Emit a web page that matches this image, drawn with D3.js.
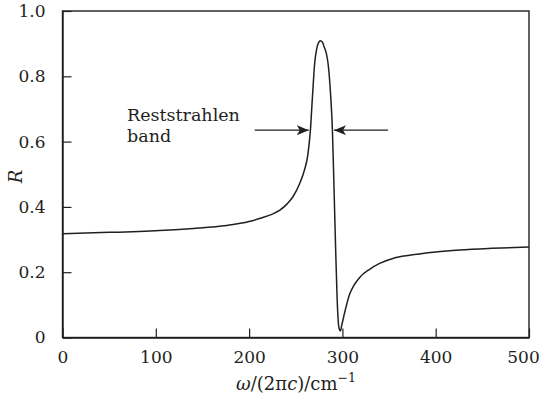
<!DOCTYPE html>
<html>
<head>
<meta charset="utf-8">
<script src="https://cdn.jsdelivr.net/npm/d3@7"></script>
<style>
  html, body { margin: 0; padding: 0; background: #fff; }
  svg { display: block; }
  text { font-family: "DejaVu Serif", "Liberation Serif", serif; fill: #231f20; }
</style>
</head>
<body>
<svg id="chart" width="540" height="403"></svg>
<script>
// Data
const freq = [0, 50, 104, 140, 176, 200, 212, 225, 233, 241, 247, 254, 259, 263, 265.7, 267.9, 270.3, 272.5, 274.5, 276.4, 278.5, 280.5, 282.8, 284.6, 287.5, 289.3, 290.9, 292.5, 294.4, 296.3, 297.8, 299.5, 302.4, 307.8, 312, 318.5, 329.2, 339.9, 355, 372, 400, 425.6, 460, 500];
const refl = [0.318, 0.322, 0.328, 0.334, 0.343, 0.355, 0.365, 0.378, 0.39, 0.41, 0.431, 0.47, 0.51, 0.56, 0.635, 0.737, 0.84, 0.885, 0.903, 0.909, 0.905, 0.89, 0.87, 0.84, 0.737, 0.635, 0.47, 0.298, 0.115, 0.03, 0.02, 0.04, 0.076, 0.133, 0.158, 0.184, 0.209, 0.227, 0.243, 0.252, 0.262, 0.268, 0.273, 0.277];
const xTicks = [0, 100, 200, 300, 400, 500];
const yTicks = [0, 0.2, 0.4, 0.6, 0.8, 1.0];
const bandLabel = ["Reststrahlen", "band"];
const arrowY = 0.635;
const leftArrow = [206, 264];   // from, tip (in cm^-1)
const rightArrow = [349, 291];  // from, tip

const svg = d3.select("#chart");
const x0 = 62.5, x1 = 529, y0 = 337.5, y1 = 11;
const x = d3.scaleLinear().domain([0, 500]).range([x0, x1]);
const y = d3.scaleLinear().domain([0, 1]).range([y0, y1]);
const ink = "#231f20";
const fs = 17;

// frame
svg.append("rect").attr("x", x0).attr("y", y1).attr("width", x1 - x0).attr("height", y0 - y1)
  .attr("fill", "none").attr("stroke", ink).attr("stroke-width", 1.4);

// axes
const xAxis = d3.axisBottom(x).tickValues(xTicks).tickSizeInner(-9).tickSizeOuter(0).tickPadding(20)
  .tickFormat(d3.format("d"));
const gx = svg.append("g").attr("transform", `translate(0,${y0})`).call(xAxis);
gx.select(".domain").attr("stroke", ink).attr("stroke-width", 1.4);
gx.selectAll(".tick line").attr("stroke", ink).attr("stroke-width", 1.2);
gx.selectAll(".tick text").attr("font-size", fs).attr("fill", ink).attr("dy", "0.3em")
  .attr("dx", d => d === 500 ? -6 : 0)
  .style("font-family", '"DejaVu Serif", serif');

const yAxis = d3.axisLeft(y).tickValues(yTicks).tickSizeInner(-9).tickSizeOuter(0).tickPadding(17)
  .tickFormat(d => d === 0 ? "0" : d3.format(".1f")(d));
const gy = svg.append("g").attr("transform", `translate(${x0},0)`).call(yAxis);
gy.select(".domain").attr("stroke", ink).attr("stroke-width", 1.4);
gy.selectAll(".tick line").attr("stroke", ink).attr("stroke-width", 1.2);
gy.selectAll(".tick text").attr("font-size", fs).attr("fill", ink)
  .style("font-family", '"DejaVu Serif", serif');

// curve
const pts = freq.map((f, i) => [f, refl[i]]);
const line = d3.line().x(d => x(d[0])).y(d => y(d[1])).curve(d3.curveMonotoneX);
svg.append("path").datum(pts).attr("d", line)
  .attr("fill", "none").attr("stroke", ink).attr("stroke-width", 1.5).attr("stroke-linejoin", "round");

// arrows
const defs = svg.append("defs");
defs.append("marker").attr("id", "ah").attr("viewBox", "0 0 12 10").attr("refX", 12).attr("refY", 5)
  .attr("markerWidth", 12).attr("markerHeight", 10).attr("markerUnits", "userSpaceOnUse").attr("orient", "auto")
  .append("path").attr("d", "M0,0 L12,5 L0,10 L3,5 Z").attr("fill", ink);
[leftArrow, rightArrow].forEach(a => {
  svg.append("line").attr("x1", x(a[0])).attr("x2", x(a[1])).attr("y1", y(arrowY)).attr("y2", y(arrowY))
    .attr("stroke", ink).attr("stroke-width", 1.3).attr("marker-end", "url(#ah)");
});

// band label
const lab = svg.append("text").attr("x", 127).attr("y", 121).attr("font-size", 17.5).attr("fill", ink);
lab.selectAll("tspan").data(bandLabel).join("tspan")
  .attr("x", 127).attr("dy", (d, i) => i === 0 ? 0 : 21).text(d => d);

// axis titles
svg.append("text").attr("transform", "translate(22,176.5) rotate(-90)").attr("text-anchor", "middle")
  .attr("font-size", 18).attr("font-style", "italic").attr("fill", ink).text("R");

const xt = svg.append("text").attr("x", 296).attr("y", 390).attr("text-anchor", "middle")
  .attr("font-size", 18).attr("fill", ink);
xt.append("tspan").attr("font-style", "italic").text("ω");
xt.append("tspan").text("/(2π");
xt.append("tspan").attr("font-style", "italic").text("c");
xt.append("tspan").text(")/cm");
xt.append("tspan").attr("font-size", 12.5).attr("dy", -8).text("−1");
</script>
</body>
</html>
